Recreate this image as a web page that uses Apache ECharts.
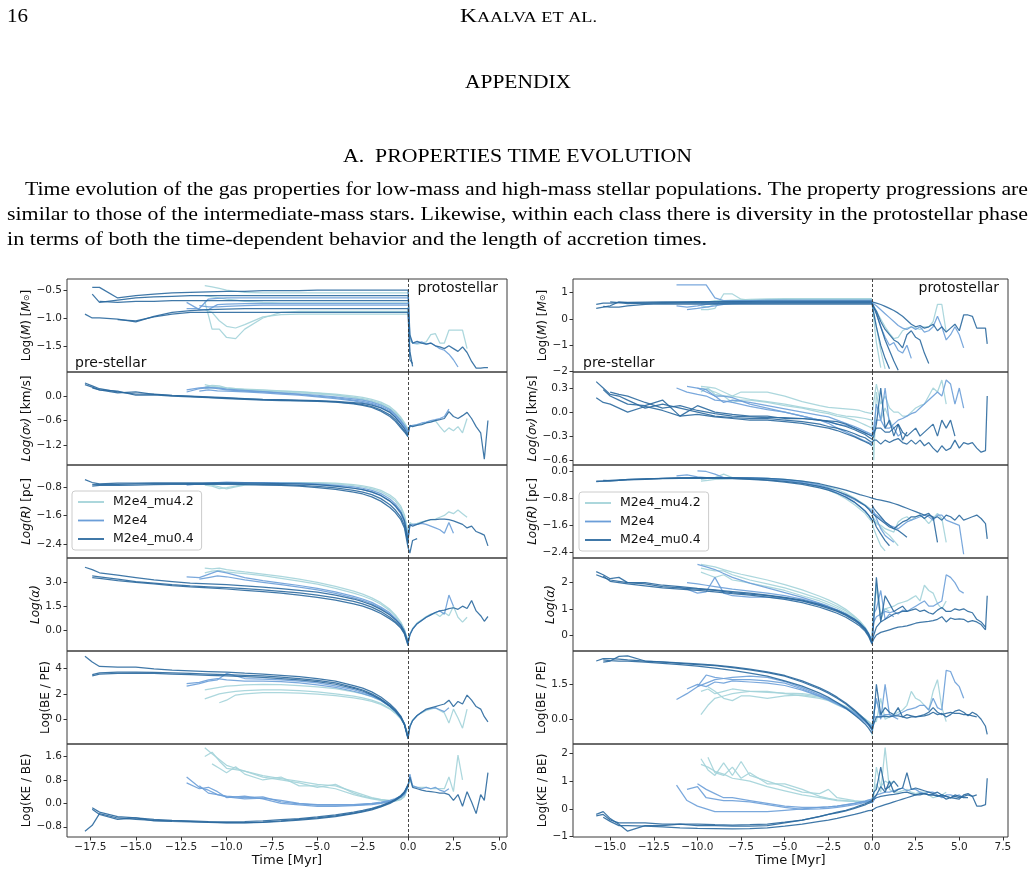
<!DOCTYPE html>
<html><head><meta charset="utf-8">
<script src="https://cdn.jsdelivr.net/npm/echarts@6/dist/echarts.min.js"></script>
<style>html,body{margin:0;padding:0;background:#fff}#c{width:1034px;height:892px}</style>
</head><body><div id="c"></div><script>
// ---------- tick labels ----------
const L_XTICKS = [-17.5,-15,-12.5,-10,-7.5,-5,-2.5,0,2.5,5];
const R_XTICKS = [-15,-12.5,-10,-7.5,-5,-2.5,0,2.5,5,7.5];
const L_M_TICKS = [-1.5,-1.0,-0.5], L_S_TICKS = [-1.2,-0.6,0], L_R_TICKS = [-2.4,-1.6,-0.8];
const L_A_TICKS = [0,1.5,3.0], L_B_TICKS = [0,2,4], L_K_TICKS = [-0.8,0,0.8,1.6];
const R_M_TICKS = [-2,-1,0,1], R_S_TICKS = [-0.6,-0.3,0,0.3], R_R_TICKS = [-2.4,-1.6,-0.8,0];
const R_A_TICKS = [0,1,2], R_B_TICKS = [0,1.5], R_K_TICKS = [-1,0,1,2];
const LEGEND_NAMES = ['M2e4_mu4.2','M2e4','M2e4_mu0.4'];

// ---------- time grids (Myr) ----------
const L_tD = [-17.8,-17.4,-17,-16,-15,-14,-13,-12,-11,-10,-9,-8,-7,-6,-5,-4,-3,-2.5,-2,-1.5,-1,-0.7,-0.4,-0.2,0];
const L_tM = [-12.2,-11.5,-11,-10.5,-10,-9,-8,-7,-6,-5,-4,-3,-2.5,-2,-1.5,-1,-0.7,-0.4,-0.2,0];
const L_tL = [-11.2,-10.8,-10.4,-10,-9.5,-9,-8,-7,-6,-5,-4,-3,-2.5,-2,-1.5,-1,-0.7,-0.4,-0.2,0];
const L_tP = [0,0.1,0.25,0.5,0.75,1,1.25,1.5,1.75,2,2.25,2.5,2.75,3,3.25,3.5,3.75,4,4.2,4.4];
const R_tD = [-15.8,-15.4,-15,-14.5,-14,-13,-12,-11,-10,-9,-8,-7,-6,-5,-4,-3,-2.5,-2,-1.5,-1,-0.7,-0.4,-0.2,0];
const R_tM = [-11.2,-10.6,-10,-9.5,-9,-8.5,-8,-7,-6,-5,-4,-3,-2.5,-2,-1.5,-1,-0.7,-0.4,-0.2,0];
const R_tL = [-9.8,-9.4,-9,-8.5,-8,-7.5,-7,-6,-5,-4,-3,-2.5,-2,-1.5,-1,-0.7,-0.4,-0.2,0];
const R_tP = [0,0.1,0.25,0.5,0.75,1,1.25,1.5,1.75,2,2.25,2.5,2.75,3,3.25,3.5,3.75,4,4.25,4.5,4.75,5,5.25,5.5,5.75,6,6.25,6.5,6.6];

// ================= LEFT FIGURE (low-mass) =================
const L_M_D = [
[-0.93,-1.0,-1.0,-1.02,-1.07,-0.97,-0.9,-0.87,-0.85,-0.84,-0.83,-0.83,-0.83,-0.83,-0.83,-0.83,-0.83,-0.83,-0.83,-0.83,-0.83,-0.83,-0.83,-0.83,-0.83],
[null,-0.45,-0.45,-0.64,-0.6,-0.57,-0.55,-0.54,-0.53,-0.52,-0.52,-0.51,-0.51,-0.51,-0.5,-0.5,-0.5,-0.5,-0.5,-0.5,-0.5,-0.5,-0.5,-0.5,-0.5],
[null,-0.57,-0.72,-0.68,-0.64,-0.62,-0.61,-0.6,-0.6,-0.6,-0.6,-0.6,-0.6,-0.6,-0.6,-0.6,-0.6,-0.6,-0.6,-0.6,-0.6,-0.6,-0.6,-0.6,-0.6],
[null,null,null,-1.03,-1.05,-0.98,-0.93,-0.9,-0.9,-0.9,-0.9,-0.9,-0.9,-0.9,-0.9,-0.9,-0.9,-0.9,-0.9,-0.9,-0.9,-0.9,-0.9,-0.9,-0.9],
[null,null,-0.7,-0.72,-0.7,-0.7,-0.69,-0.69,-0.69,-0.69,-0.69,-0.69,-0.69,-0.69,-0.69,-0.69,-0.69,-0.69,-0.69,-0.69,-0.69,-0.69,-0.69,-0.69,-0.69]];
const L_M_M = [
[-0.72,-0.85,-0.85,-0.76,-0.75,-0.74,-0.74,-0.74,-0.74,-0.74,-0.74,-0.74,-0.74,-0.74,-0.74,-0.74,-0.74,-0.74,-0.74,-0.74],
[-0.83,-0.83,-0.66,-0.65,-0.64,-0.64,-0.64,-0.64,-0.64,-0.64,-0.64,-0.64,-0.64,-0.64,-0.64,-0.64,-0.64,-0.64,-0.64,-0.64],
[null,-0.78,-0.8,-0.8,-0.79,-0.78,-0.77,-0.77,-0.77,-0.77,-0.77,-0.77,-0.77,-0.77,-0.77,-0.77,-0.77,-0.77,-0.77,-0.77]];
const L_M_L = [
[-0.42,-0.44,-0.47,-0.5,-0.52,-0.54,-0.55,-0.55,-0.55,-0.55,-0.55,-0.55,-0.55,-0.55,-0.55,-0.55,-0.55,-0.55,-0.55,-0.55],
[-0.7,-1.2,-1.2,-1.35,-1.37,-1.2,-1.0,-0.9,-0.88,-0.88,-0.88,-0.88,-0.88,-0.88,-0.88,-0.88,-0.88,-0.88,-0.88,-0.88],
[-0.85,-0.9,-1.05,-1.15,-1.18,-1.12,-0.98,-0.94,-0.93,-0.93,-0.93,-0.93,-0.93,-0.93,-0.93,-0.93,-0.93,-0.93,-0.93,-0.93],
[-0.6,-0.62,-0.64,-0.66,-0.68,-0.7,-0.72,-0.73,-0.73,-0.73,-0.73,-0.73,-0.73,-0.73,-0.73,-0.73,-0.73,-0.73,-0.73,-0.73]];
const L_M_Pd = [[-0.5,-1.3,-1.45,-1.42,-1.45,-1.47,-1.45,-1.5,-1.52,-1.55,-1.5,-1.55,-1.6,-1.52,-1.62,-1.78,-1.9,-1.9,-1.89,-1.89],[-0.83,-1.6,-1.87],[-0.9,-1.75,-1.82]];
const L_M_Pm = [[-0.6,-1.35,-1.45,-1.45,-1.43,-1.47,-1.45,-1.5,-1.55,-1.58,-1.65,-1.75,-1.88]];
const L_M_Pl = [[-0.8,-1.4,-1.45,-1.47,-1.45,-1.43,-1.3,-1.28,-1.45,-1.45,-1.22,-1.22,-1.22,-1.22,-1.55]];
const L_S_D = [
[0.32,0.25,0.18,0.1,0.05,0.05,0.02,0.0,-0.02,-0.04,-0.06,-0.08,-0.09,-0.1,-0.11,-0.13,-0.16,-0.18,-0.22,-0.29,-0.4,-0.52,-0.68,-0.8,-0.95],
[0.28,0.22,0.15,0.08,0.1,0.04,0.01,-0.01,-0.03,-0.05,-0.07,-0.09,-0.1,-0.11,-0.12,-0.14,-0.18,-0.21,-0.26,-0.34,-0.46,-0.58,-0.74,-0.85,-0.98],
[null,0.2,0.15,0.12,0.02,0.03,0.0,-0.02,-0.04,-0.06,-0.08,-0.1,-0.11,-0.12,-0.13,-0.15,-0.19,-0.23,-0.28,-0.37,-0.5,-0.62,-0.78,-0.88,-1.0]];
const L_S_M = [
[0.15,0.2,0.22,0.18,0.15,0.12,0.1,0.07,0.04,0.0,-0.04,-0.1,-0.13,-0.18,-0.25,-0.36,-0.48,-0.62,-0.74,-0.88],
[0.1,0.18,0.2,0.2,0.17,0.14,0.11,0.08,0.05,0.02,-0.02,-0.07,-0.1,-0.15,-0.22,-0.33,-0.45,-0.6,-0.72,-0.85],
[null,0.12,0.15,0.13,0.12,0.1,0.08,0.05,0.02,-0.02,-0.06,-0.12,-0.16,-0.2,-0.28,-0.39,-0.52,-0.66,-0.77,-0.9]];
const L_S_L = [
[0.28,0.24,0.22,0.2,0.18,0.17,0.15,0.13,0.11,0.08,0.05,0.0,-0.03,-0.08,-0.15,-0.26,-0.37,-0.52,-0.65,-0.8],
[0.22,0.26,0.25,0.2,0.18,0.16,0.14,0.12,0.1,0.07,0.03,-0.03,-0.06,-0.11,-0.18,-0.3,-0.4,-0.55,-0.68,-0.82],
[0.18,0.2,0.2,0.17,0.15,0.14,0.12,0.1,0.08,0.05,0.02,-0.04,-0.08,-0.13,-0.2,-0.32,-0.43,-0.58,-0.7,-0.85]];
const L_S_Pd = [[-0.95,-0.72,-0.75,-0.72,-0.7,-0.66,-0.64,-0.6,-0.58,-0.55,-0.38,-0.5,-0.55,-0.48,-0.4,-0.55,-0.75,-0.9,-1.55,-0.6]];
const L_S_Pm = [[-0.88,-0.75,-0.72,-0.7,-0.66,-0.64,-0.6,-0.58,-0.55,-0.5,-0.32]];
const L_S_Pl = [[-0.8,-0.75,-0.73,-0.7,-0.68,-0.65,-0.62,-0.6,-0.75,-0.88,-0.78,-0.85,-0.75,-0.9,-0.55]];
const L_R_D = [
[-0.6,-0.68,-0.72,-0.7,-0.7,-0.69,-0.69,-0.69,-0.69,-0.69,-0.69,-0.7,-0.71,-0.72,-0.74,-0.78,-0.84,-0.88,-0.94,-1.04,-1.2,-1.33,-1.52,-1.75,-2.3],
[null,-0.74,-0.74,-0.73,-0.72,-0.71,-0.71,-0.71,-0.71,-0.71,-0.72,-0.73,-0.74,-0.76,-0.79,-0.83,-0.9,-0.95,-1.02,-1.13,-1.3,-1.45,-1.65,-1.88,-2.4],
[null,-0.78,-0.76,-0.76,-0.75,-0.74,-0.73,-0.73,-0.73,-0.73,-0.74,-0.75,-0.76,-0.78,-0.82,-0.87,-0.95,-1.0,-1.08,-1.2,-1.38,-1.52,-1.72,-1.95,-2.5]];
const L_R_M = [
[-0.75,-0.72,-0.7,-0.68,-0.67,-0.68,-0.68,-0.69,-0.7,-0.72,-0.75,-0.8,-0.84,-0.9,-0.99,-1.14,-1.28,-1.48,-1.72,-2.2],
[-0.72,-0.73,-0.72,-0.7,-0.7,-0.7,-0.7,-0.71,-0.72,-0.74,-0.78,-0.84,-0.88,-0.95,-1.05,-1.2,-1.35,-1.55,-1.8,-2.35]];
const L_R_L = [
[-0.75,-0.78,-0.85,-0.82,-0.78,-0.73,-0.7,-0.68,-0.68,-0.68,-0.7,-0.74,-0.77,-0.82,-0.9,-1.03,-1.15,-1.34,-1.58,-2.05],
[-0.72,-0.75,-0.8,-0.86,-0.8,-0.75,-0.72,-0.7,-0.69,-0.7,-0.72,-0.77,-0.8,-0.86,-0.94,-1.08,-1.2,-1.4,-1.65,-2.15]];
const L_R_Pd = [[-2.3,-1.85,-1.9,-1.85,-1.8,-1.75,-1.72,-1.72,-1.7,-1.7,-1.72,-1.75,-1.8,-1.85,-1.95,-1.9,-2.05,-2.1,-2.15,-2.45],[-2.5,-2.65,-2.3,-2.25]];
const L_R_Pm = [[-2.2,-1.9,-1.85,-1.85,-1.82,-1.85,-1.9,-1.95,-2.0,-2.1,-1.8,-2.1]];
const L_R_Pl = [[-2.05,-1.8,-1.85,-1.82,-1.78,-1.75,-1.72,-1.7,-1.65,-1.6,-1.5,-1.55,-1.45,-1.55,-1.65]];
const L_A_D = [
[3.95,3.8,3.6,3.45,3.3,3.15,3.05,2.95,2.9,2.85,2.78,2.7,2.6,2.5,2.38,2.2,1.95,1.78,1.58,1.3,0.95,0.65,0.3,-0.1,-0.8],
[null,3.4,3.35,3.2,3.05,2.95,2.85,2.78,2.72,2.66,2.6,2.52,2.43,2.33,2.2,2.02,1.8,1.64,1.44,1.16,0.8,0.52,0.18,-0.2,-0.9],
[null,3.3,3.25,3.1,3.0,2.9,2.8,2.72,2.65,2.58,2.5,2.42,2.32,2.2,2.06,1.88,1.65,1.5,1.3,1.04,0.7,0.45,0.12,-0.25,-1.0]];
const L_A_M = [
[3.35,3.3,3.5,3.7,3.6,3.3,3.1,2.95,2.8,2.62,2.4,2.12,1.95,1.74,1.45,1.08,0.75,0.35,-0.05,-0.85],
[null,3.2,3.3,3.4,3.35,3.15,3.0,2.85,2.7,2.52,2.3,2.02,1.86,1.65,1.38,1.0,0.7,0.3,-0.1,-0.8]];
const L_A_L = [
[3.9,3.85,3.9,3.8,3.72,3.65,3.52,3.38,3.2,3.0,2.75,2.45,2.26,2.02,1.72,1.3,0.95,0.5,0.05,-0.7],
[3.6,3.7,3.75,3.65,3.6,3.55,3.42,3.25,3.08,2.88,2.62,2.32,2.14,1.92,1.62,1.22,0.88,0.45,0.0,-0.75]];
const L_A_Pd = [[-0.8,-0.3,0.05,0.4,0.6,0.8,0.95,1.1,1.2,1.25,1.35,1.4,1.3,1.5,1.35,1.85,1.2,0.9,0.55,0.85]];
const L_A_Pm = [[-0.85,-0.3,0.05,0.4,0.6,0.8,0.95,1.1,1.2,1.0,2.2,1.5]];
const L_A_Pl = [[-0.7,-0.25,0.1,0.45,0.65,0.85,1.0,1.05,0.85,1.1,0.9,1.5,0.8,0.5,0.8]];
const L_B_D = [
[4.95,4.5,4.15,4.1,4.1,3.95,3.85,3.8,3.75,3.7,3.62,3.55,3.45,3.35,3.2,3.0,2.65,2.45,2.15,1.75,1.2,0.8,0.25,-0.35,-1.45],
[null,3.5,3.65,3.7,3.7,3.68,3.65,3.6,3.55,3.5,3.45,3.4,3.3,3.2,3.05,2.85,2.5,2.3,2.0,1.6,1.08,0.7,0.18,-0.4,-1.5],
[null,3.4,3.55,3.6,3.62,3.6,3.55,3.5,3.45,3.4,3.35,3.28,3.2,3.1,2.95,2.75,2.42,2.22,1.92,1.52,1.0,0.62,0.12,-0.45,-1.55]];
const L_B_M = [
[2.6,2.8,3.0,3.1,3.6,3.2,3.15,3.1,3.0,2.85,2.62,2.32,2.12,1.88,1.55,1.05,0.65,0.15,-0.35,-1.4],
[2.8,2.9,3.1,3.2,3.1,3.0,3.0,2.95,2.85,2.7,2.5,2.2,2.02,1.8,1.48,1.0,0.6,0.1,-0.4,-1.45]];
const L_B_L = [
[1.6,1.8,2.0,2.1,2.2,2.25,2.3,2.3,2.25,2.15,2.0,1.82,1.68,1.5,1.25,0.85,0.5,0.05,-0.4,-1.25],
[2.3,2.4,2.5,2.6,2.65,2.7,2.75,2.72,2.65,2.55,2.4,2.15,2.0,1.78,1.48,1.02,0.62,0.12,-0.38,-1.3],
[null,null,1.3,1.5,1.9,2.0,2.1,2.1,2.05,1.98,1.85,1.68,1.56,1.4,1.17,0.8,0.46,0.04,-0.42,-1.2]];
const L_B_Pd = [[-1.5,-0.6,-0.1,0.3,0.55,0.8,0.9,1.0,1.1,1.2,1.5,1.0,1.4,1.2,1.9,1.5,1.0,0.8,0.2,-0.2]];
const L_B_Pm = [[-1.4,-0.55,-0.1,0.3,0.55,0.75,0.85,0.9,0.75,0.6,0.9]];
const L_B_Pl = [[-1.25,-0.5,-0.05,0.3,0.5,0.7,0.8,0.9,0.7,0.5,-0.3,0.8,0.1,-0.7,0.8]];
const L_K_D = [
[-0.95,-0.75,-0.35,-0.5,-0.55,-0.58,-0.6,-0.62,-0.64,-0.66,-0.66,-0.64,-0.6,-0.55,-0.5,-0.43,-0.33,-0.27,-0.2,-0.1,0.02,0.12,0.25,0.38,0.62],
[null,-0.15,-0.3,-0.45,-0.5,-0.55,-0.58,-0.6,-0.62,-0.63,-0.62,-0.6,-0.56,-0.52,-0.46,-0.39,-0.3,-0.24,-0.17,-0.08,0.04,0.14,0.27,0.4,0.65],
[null,-0.2,-0.38,-0.55,-0.5,-0.6,-0.62,-0.63,-0.65,-0.67,-0.67,-0.65,-0.62,-0.57,-0.52,-0.45,-0.35,-0.29,-0.22,-0.12,0.0,0.1,0.23,0.36,0.6]];
const L_K_M = [
[0.9,0.55,0.45,0.3,0.25,0.2,0.22,0.05,-0.02,-0.06,-0.06,-0.06,-0.04,-0.02,0.02,0.08,0.14,0.22,0.32,0.6],
[0.7,0.5,0.55,0.4,0.2,0.25,0.15,0.0,-0.05,-0.1,-0.1,-0.08,-0.06,-0.04,0.0,0.06,0.12,0.2,0.3,0.58],
[null,0.6,0.35,0.3,0.22,0.15,0.18,0.1,0.0,-0.04,-0.04,-0.04,-0.02,0.0,0.04,0.1,0.16,0.24,0.34,0.62]];
const L_K_L = [
[1.9,1.7,1.5,1.3,1.2,1.1,0.95,0.85,0.75,0.65,0.6,0.4,0.3,0.2,0.14,0.1,0.1,0.15,0.25,0.6],
[1.6,1.75,1.45,1.2,1.15,1.1,0.9,0.8,0.7,0.55,0.65,0.35,0.25,0.18,0.12,0.08,0.1,0.14,0.24,0.58],
[null,1.35,1.2,1.05,1.25,1.0,0.8,0.9,0.6,0.6,0.5,0.3,0.22,0.15,0.1,0.07,0.08,0.13,0.23,0.55]];
const L_K_Pd = [[0.62,0.9,0.55,0.5,0.45,0.42,0.4,0.38,0.35,0.35,0.3,0.1,0.3,-0.1,0.4,0.05,-0.35,0.3,0.1,1.05]];
const L_K_Pm = [[0.58,1.0,0.6,0.55,0.5,0.55,0.5,0.55,0.45,0.4,0.5]];
const L_K_Pl = [[0.55,0.8,0.6,0.55,0.55,0.55,0.5,0.5,0.5,0.5,0.9,0.4,1.65,0.8]];

// ================= RIGHT FIGURE (high-mass) =================
const R_M_D = [
[0.4,0.45,0.5,0.65,0.62,0.6,0.6,0.6,0.6,0.6,0.6,0.6,0.6,0.6,0.6,0.6,0.6,0.6,0.6,0.6,0.6,0.6,0.6,0.6],
[0.55,0.6,0.6,0.62,0.63,0.64,0.65,0.65,0.66,0.66,0.67,0.67,0.68,0.68,0.68,0.68,0.68,0.68,0.68,0.68,0.68,0.68,0.68,0.68],
[null,0.48,0.45,0.45,0.5,0.55,0.57,0.56,0.56,0.56,0.56,0.56,0.56,0.56,0.56,0.56,0.56,0.56,0.56,0.56,0.56,0.56,0.56,0.56],
[null,null,0.65,0.62,0.58,0.6,0.62,0.63,0.63,0.64,0.64,0.64,0.64,0.64,0.64,0.64,0.64,0.64,0.64,0.64,0.64,0.64,0.64,0.64]];
const R_M_M = [
[1.3,1.3,1.3,1.3,0.8,0.7,0.7,0.7,0.72,0.72,0.72,0.72,0.72,0.72,0.72,0.72,0.72,0.72,0.72,0.72],
[0.5,0.45,0.5,0.55,0.58,0.6,0.62,0.64,0.66,0.67,0.67,0.67,0.67,0.67,0.67,0.67,0.67,0.67,0.67,0.67],
[null,0.35,0.4,0.45,0.5,0.55,0.58,0.6,0.61,0.62,0.62,0.62,0.62,0.62,0.62,0.62,0.62,0.62,0.62,0.62]];
const R_M_L = [
[0.35,0.35,0.4,0.95,0.95,0.75,0.72,0.73,0.74,0.75,0.75,0.75,0.75,0.75,0.75,0.75,0.75,0.75,0.75],
[0.6,0.65,0.7,0.7,0.72,0.73,0.74,0.76,0.77,0.77,0.77,0.77,0.77,0.77,0.77,0.77,0.77,0.77,0.77],
[0.5,0.45,0.55,0.6,0.65,0.68,0.7,0.71,0.72,0.72,0.72,0.72,0.72,0.72,0.72,0.72,0.72,0.72,0.72]];
const R_M_Pd = [
[0.65,0.63,0.6,0.55,0.48,0.4,0.32,0.22,0.1,-0.05,-0.2,-0.3,-0.25,-0.35,-0.3,-0.2,-0.45,-0.3,-0.5,-0.35,-0.2,-0.45,0.15,0.15,0.1,-0.35,-0.35,-0.35,-0.95],
[0.6,0.45,0.3,-0.1,-0.4,-0.6,-0.8,-0.9,-1.1,-0.6,-0.45,-0.7,-0.8,-1.3,-1.7],
[0.6,0.45,0.2,-0.3,-0.8,-1.2,-1.6,-1.95],
[0.6,0.2,-0.3,-1.0,-1.5,-1.9]];
const R_M_Pm = [
[0.62,0.58,0.5,0.35,0.2,0.05,-0.1,-0.25,-0.35,-0.4,-0.3,-0.4,-0.3,-0.5,-0.45,-0.3,0.1,-0.3,-0.8,-0.6,-0.3,-0.6,-1.1],
[0.62,0.45,0.2,-0.3,-0.7,-1.0,-0.9,-1.2,-1.3,-1.0,-1.5]];
const R_M_Pl = [
[0.6,0.5,0.3,0.0,-0.3,-0.55,-0.75,-0.7,-0.45,-0.35,-0.3,-0.35,-0.4,-0.3,-0.3,-0.1,0.55,0.55,-0.5],
[0.65,0.3,-0.3,-1.2,-1.9],
[0.62,0.0,-0.9,-1.85]];
const R_S_D = [
[0.38,0.3,0.22,0.2,0.15,0.05,0.1,0.05,0.0,-0.05,-0.07,-0.08,-0.08,-0.1,-0.12,-0.15,-0.18,-0.2,-0.23,-0.27,-0.3,-0.32,-0.35,-0.38],
[0.18,0.12,0.1,0.05,0.0,0.07,0.02,-0.05,0.08,0.0,-0.03,-0.05,-0.05,-0.08,-0.08,-0.1,-0.11,-0.12,-0.15,-0.2,-0.23,-0.26,-0.28,-0.3],
[null,0.28,0.2,0.15,0.1,0.08,0.15,-0.05,-0.03,-0.06,-0.08,-0.1,-0.1,-0.12,-0.14,-0.18,-0.2,-0.23,-0.27,-0.31,-0.34,-0.37,-0.39,-0.42],
[null,null,0.25,0.22,0.2,0.12,0.05,0.08,0.02,-0.02,-0.05,-0.06,-0.07,-0.07,-0.08,-0.1,-0.12,-0.15,-0.18,-0.22,-0.25,-0.28,-0.31,-0.34]];
const R_S_M = [
[0.3,0.25,0.22,0.2,0.15,0.14,0.12,0.07,0.03,0.0,-0.05,-0.1,-0.12,-0.15,-0.17,-0.2,-0.23,-0.26,-0.28,-0.3],
[null,null,0.3,0.28,0.2,0.2,0.18,0.1,0.05,0.0,-0.05,-0.1,-0.14,-0.2,-0.25,-0.3,-0.33,-0.36,-0.38,-0.4],
[null,0.32,0.3,0.25,0.2,0.12,0.15,0.12,0.08,0.04,0.0,-0.04,-0.06,-0.1,-0.14,-0.18,-0.21,-0.24,-0.26,-0.28]];
const R_S_L = [
[0.32,0.31,0.3,0.25,0.2,0.25,0.25,0.25,0.2,0.13,0.08,0.06,0.05,0.04,0.03,0.02,0.0,-0.01,-0.02],
[0.3,0.28,0.25,0.2,0.12,0.15,0.15,0.12,0.08,0.05,0.0,-0.02,-0.05,-0.07,-0.1,-0.13,-0.16,-0.18,-0.2],
[0.25,0.3,0.22,0.2,0.2,0.18,0.16,0.13,0.1,0.06,0.02,0.0,-0.03,-0.05,-0.06,-0.07,-0.08,-0.09,-0.1]];
const R_S_Pd = [
[-0.38,-0.35,-0.35,-0.4,-0.35,-0.38,-0.35,-0.33,-0.38,-0.4,-0.35,-0.4,-0.35,-0.42,-0.38,-0.45,-0.5,-0.42,-0.48,-0.45,-0.35,-0.45,-0.38,-0.4,-0.38,-0.45,-0.5,-0.48,0.2],
[-0.3,-0.25,-0.2,-0.2,-0.25,-0.25,-0.2,-0.15,-0.25,-0.3,-0.25,-0.2,-0.3,-0.25,-0.2,-0.15,-0.3,-0.1,-0.2,-0.1,-0.3],
[-0.34,-0.3,-0.15,0.3,-0.2,-0.1,-0.3,-0.15,-0.35,-0.25]];
const R_S_Pm = [
[-0.28,-0.2,-0.1,-0.1,-0.2,-0.2,-0.15,-0.1,-0.08,-0.05,-0.02,0.0,0.05,0.1,0.15,0.2,0.25,0.2,0.4,0.35,0.1,0.3,0.05],
[-0.3,-0.2,0.1,-0.1,0.3,-0.15,-0.2,-0.3,-0.25]];
const R_S_Pl = [
[-0.02,0.0,0.35,0.1,0.2,0.05,0.0,0.0,-0.05,-0.05,0.0,0.05,0.08,0.1,0.2,0.3,0.25,0.4,0.1],
[-0.1,-0.6,0.25,-0.1,0.05,-0.1,-0.2]];
const R_R_D = [
[-0.3,-0.3,-0.3,-0.28,-0.27,-0.25,-0.22,-0.21,-0.2,-0.2,-0.2,-0.21,-0.22,-0.25,-0.3,-0.38,-0.44,-0.5,-0.57,-0.65,-0.7,-0.74,-0.77,-0.8],
[-0.32,-0.3,-0.28,-0.27,-0.26,-0.24,-0.22,-0.21,-0.21,-0.21,-0.22,-0.24,-0.27,-0.31,-0.37,-0.46,-0.52,-0.6,-0.7,-0.82,-0.92,-1.02,-1.12,-1.25],
[null,-0.28,-0.29,-0.28,-0.25,-0.24,-0.23,-0.22,-0.22,-0.22,-0.23,-0.25,-0.28,-0.33,-0.4,-0.5,-0.57,-0.66,-0.77,-0.92,-1.05,-1.18,-1.3,-1.45]];
const R_R_M = [
[-0.15,-0.12,-0.18,-0.2,-0.2,-0.2,-0.2,-0.21,-0.22,-0.26,-0.32,-0.42,-0.5,-0.6,-0.72,-0.85,-0.94,-1.02,-1.1,-1.2],
[null,null,0.0,-0.02,-0.1,-0.2,-0.22,-0.22,-0.23,-0.28,-0.35,-0.46,-0.54,-0.65,-0.78,-0.93,-1.05,-1.18,-1.3,-1.45]];
const R_R_L = [
[-0.3,-0.28,-0.25,-0.24,-0.22,-0.22,-0.22,-0.22,-0.25,-0.3,-0.4,-0.47,-0.55,-0.66,-0.8,-0.9,-1.0,-1.08,-1.15],
[-0.25,-0.22,-0.2,-0.1,-0.2,-0.22,-0.23,-0.24,-0.28,-0.35,-0.48,-0.57,-0.68,-0.82,-1.0,-1.12,-1.25,-1.38,-1.5]];
const R_R_Pd = [
[-0.8,-0.82,-0.84,-0.86,-0.89,-0.92,-0.96,-1.0,-1.05,-1.1,-1.15,-1.2,-1.25,-1.3,-1.25,-1.4,-1.35,-1.45,-1.3,-1.35,-1.45,-1.3,-1.45,-1.4,-1.35,-1.3,-1.4,-1.55,-2.0],
[-1.25,-1.3,-1.35,-1.45,-1.55,-1.65,-1.7,-1.6,-1.5,-1.45,-1.35,-1.35,-1.3,-1.4,-1.3,-1.35,-2.1],
[-1.0,-1.1,-1.2,-1.35,-1.5,-1.6,-1.7,-1.75,-1.85,-1.95],
[-1.3,-1.45,-1.65,-1.85,-2.05,-2.2]];
const R_R_Pm = [
[-1.2,-1.25,-1.3,-1.4,-1.5,-1.6,-1.65,-1.7,-1.6,-1.5,-1.45,-1.4,-1.35,-1.3,-1.35,-1.45,-1.3,-1.3,-1.45,-1.5,-1.55,-1.6,-2.45],
[-1.1,-1.2,-1.4,-1.7,-1.9,-2.0,-2.1]];
const R_R_Pl = [
[-1.45,-1.5,-1.55,-1.6,-1.7,-1.75,-1.8,-1.5,-1.4,-1.35,-1.45,-1.35,-1.3,-1.4,-1.55,-1.4,-1.25,-1.4,-2.1],
[-1.5,-1.7,-1.9,-2.2,-2.35],
[-1.3,-1.4,-1.5,-1.65,-1.8,-1.9,-2.05,-2.2]];
const R_A_D = [
[2.3,2.2,2.1,2.05,2.0,1.95,1.85,1.8,1.75,1.7,1.62,1.56,1.5,1.42,1.3,1.12,1.02,0.9,0.75,0.55,0.4,0.2,0.0,-0.3],
[2.42,2.3,2.15,2.2,2.0,2.0,1.9,1.85,1.78,1.72,1.66,1.6,1.52,1.44,1.33,1.17,1.06,0.94,0.79,0.6,0.45,0.25,0.05,-0.25],
[null,2.25,2.05,2.0,1.95,1.88,1.8,1.75,1.7,1.65,1.58,1.52,1.45,1.36,1.24,1.06,0.95,0.83,0.68,0.48,0.34,0.15,-0.05,-0.35]];
const R_A_M = [
[1.85,1.75,1.6,1.65,2.2,1.6,1.5,1.45,1.45,1.4,1.3,1.15,1.05,0.93,0.78,0.58,0.43,0.23,0.03,-0.3],
[null,null,2.7,2.6,2.5,2.35,2.2,1.98,1.8,1.62,1.44,1.22,1.1,0.96,0.8,0.6,0.44,0.24,0.03,-0.3],
[null,2.0,1.95,1.9,1.85,1.8,1.75,1.68,1.6,1.5,1.37,1.2,1.08,0.95,0.8,0.6,0.45,0.26,0.05,-0.25]];
const R_A_L = [
[2.7,2.65,2.6,2.5,2.4,2.32,2.25,2.1,1.92,1.72,1.48,1.34,1.18,0.98,0.72,0.54,0.3,0.08,-0.2],
[2.55,2.5,2.45,2.45,2.3,2.2,2.1,1.95,1.8,1.6,1.38,1.25,1.1,0.92,0.68,0.5,0.27,0.05,-0.22],
[2.4,2.3,2.2,2.3,2.1,2.05,1.98,1.85,1.7,1.5,1.3,1.17,1.03,0.85,0.63,0.46,0.25,0.03,-0.25]];
const R_A_Pd = [
[-0.3,-0.15,0.0,0.1,0.15,0.2,0.25,0.3,0.32,0.35,0.4,0.45,0.48,0.5,0.52,0.55,0.6,0.7,0.5,0.65,0.6,0.62,0.6,0.5,0.55,0.5,0.4,0.2,1.5],
[-0.25,0.0,0.3,0.5,0.6,0.7,0.8,0.85,0.9,0.9,0.95,1.0,0.9,0.95,0.85,0.8,0.95,1.05,0.9,0.9,1.0,0.95,1.0,0.9,0.85,0.6,0.5,0.3],
[-0.3,0.5,2.2,0.5,1.5,1.2,0.9,1.0,1.1,0.9]];
const R_A_Pm = [
[-0.1,0.5,0.7,0.8,0.9,0.85,0.9,0.8,0.95,0.9,1.0,1.1,1.2,1.3,1.1,1.1,1.2,1.3,2.3,2.2,2.0,1.7,1.6],
[-0.2,0.8,1.0,1.7,0.6,0.8,0.7]];
const R_A_Pl = [
[0.0,1.0,2.0,0.8,1.0,1.05,1.1,1.2,1.25,1.3,1.4,1.5,1.3,1.9,1.7,1.6,1.2,1.0,1.3],
[-0.1,1.0,1.8,0.6,1.0,0.9]];
const R_B_D = [
[2.5,2.6,2.6,2.58,2.55,2.5,2.45,2.4,2.35,2.3,2.22,2.12,2.0,1.85,1.6,1.3,1.12,0.9,0.66,0.36,0.16,-0.05,-0.22,-0.45],
[null,2.45,2.5,2.7,2.72,2.5,2.46,2.42,2.38,2.32,2.25,2.15,2.03,1.88,1.65,1.35,1.17,0.95,0.7,0.4,0.2,-0.02,-0.2,-0.4],
[null,2.55,2.52,2.5,2.5,2.45,2.4,2.35,2.28,2.2,2.1,1.98,1.85,1.65,1.42,1.12,0.94,0.72,0.48,0.18,0.0,-0.2,-0.38,-0.6]];
const R_B_M = [
[0.85,1.1,1.4,1.55,1.7,1.75,1.8,1.85,1.8,1.62,1.36,1.05,0.88,0.7,0.5,0.28,0.12,-0.05,-0.18,-0.3],
[null,null,1.4,1.9,1.8,1.75,1.7,1.7,1.65,1.55,1.3,1.0,0.85,0.68,0.48,0.25,0.1,-0.08,-0.22,-0.4],
[null,1.3,1.5,1.4,1.6,1.55,1.65,1.6,1.55,1.45,1.25,0.98,0.82,0.65,0.46,0.22,0.06,-0.12,-0.26,-0.45]];
const R_B_L = [
[0.2,0.6,0.9,1.0,1.1,1.15,1.2,1.2,1.1,1.0,0.9,0.8,0.62,0.45,0.22,0.08,-0.08,-0.2,-0.3],
[null,1.4,1.2,0.9,0.8,1.0,1.0,0.9,1.0,1.05,0.95,0.85,0.7,0.52,0.3,0.15,0.0,-0.1,-0.2],
[1.2,1.3,1.1,1.2,1.3,1.25,1.2,1.15,1.12,1.1,1.0,0.88,0.72,0.55,0.32,0.18,0.02,-0.1,-0.25]];
const R_B_Pd = [
[-0.5,-0.2,0.1,0.1,0.12,0.1,0.15,0.15,0.1,0.05,0.1,0.1,0.12,0.15,0.2,0.3,0.2,0.25,0.1,0.2,0.35,0.4,0.3,0.15,0.3,0.2,0.0,-0.3,-0.65],
[-0.4,0.0,1.5,0.2,0.5,0.3,0.2,0.5,0.1,0.2,0.15,0.1,0.15,0.2,0.3,0.5,0.3,0.2,0.25,0.3,0.25,0.25,0.2,0.2,0.15,0.1]];
const R_B_Pm = [
[-0.3,0.1,0.1,0.1,0.2,0.2,0.15,0.2,0.3,0.4,0.45,0.5,0.6,0.6,0.4,0.9,0.5,0.4,2.1,2.05,1.6,1.4,0.9],
[-0.6,0.2,0.9,0.0,1.5,0.2,0.1,0.0]];
const R_B_Pl = [
[-0.4,0.3,0.8,0.2,0.15,0.1,0.2,0.3,0.4,0.6,1.2,0.9,0.8,0.6,0.4,1.2,1.7,0.5,-0.1],
[-0.7,-0.1,-0.1,0.9,0.0,0.1]];
const R_K_D = [
[-0.2,-0.1,-0.35,-0.55,-0.8,-0.6,-0.6,-0.55,-0.6,-0.6,-0.62,-0.62,-0.6,-0.5,-0.4,-0.28,-0.2,-0.12,-0.05,0.05,0.12,0.18,0.24,0.3],
[-0.25,-0.2,-0.4,-0.5,-0.5,-0.5,-0.55,-0.55,-0.55,-0.57,-0.58,-0.57,-0.55,-0.48,-0.4,-0.27,-0.2,-0.14,-0.07,0.02,0.08,0.14,0.2,0.25],
[null,-0.3,-0.45,-0.6,-0.6,-0.62,-0.65,-0.68,-0.7,-0.71,-0.72,-0.71,-0.68,-0.62,-0.55,-0.45,-0.4,-0.34,-0.27,-0.2,-0.15,-0.1,-0.06,-0.05]];
const R_K_M = [
[0.85,0.3,0.1,0.0,-0.1,-0.1,-0.1,-0.1,-0.1,-0.05,0.0,0.05,0.07,0.1,0.14,0.2,0.23,0.26,0.28,0.3],
[null,null,0.9,0.7,0.55,0.4,0.4,0.3,0.2,0.1,0.05,0.05,0.07,0.1,0.15,0.2,0.24,0.28,0.32,0.35],
[null,0.7,0.8,0.4,0.35,0.3,0.3,0.25,0.15,0.05,-0.02,0.0,0.02,0.05,0.1,0.15,0.19,0.23,0.27,0.3]];
const R_K_L = [
[1.8,1.4,1.2,1.65,1.2,1.7,1.2,1.0,0.8,0.6,0.55,0.7,0.4,0.35,0.3,0.28,0.28,0.29,0.3],
[1.6,1.5,1.35,1.25,1.1,1.05,1.0,0.8,0.65,0.5,0.4,0.35,0.3,0.28,0.26,0.25,0.25,0.25,0.25],
[null,1.85,1.3,1.2,1.5,1.1,1.3,0.9,0.9,0.7,0.45,0.38,0.32,0.3,0.27,0.26,0.26,0.27,0.28]];
const R_K_Pd = [
[0.3,0.35,0.4,0.45,0.48,0.5,0.52,0.55,0.58,0.6,0.55,0.5,0.55,0.55,0.5,0.5,0.48,0.45,0.35,0.4,0.38,0.35,0.5,0.55,0.45,0.1,0.1,0.15,1.1],
[0.3,0.4,0.5,0.8,0.6,1.0,0.6,0.7,0.75,1.3,0.7,0.75,0.7,0.65,0.6,0.55,0.6,0.5,0.45,0.4,0.5,0.45,0.4,0.4],
[-0.05,0.0,0.05,0.1,0.15,0.2,0.25,0.3,0.35,0.4,0.45,0.5,0.5,0.55,0.5,0.5,0.45,0.5,0.45,0.4,0.45,0.4,0.45,0.5,0.45,0.5],
[0.25,0.6,0.7,1.5,0.7,0.8,1.0,0.8]];
const R_K_Pm = [[0.2,0.3,0.5,0.55,0.6,0.6,0.65,0.7,0.75,0.65,0.7,0.7,0.6,0.55,0.6,0.6,0.5,0.4,0.5,0.5,0.45,0.5,0.4]];
const R_K_Pl = [
[0.3,0.5,0.9,0.6,2.2,0.7,0.6,0.6,0.65,0.7,0.6,0.55,0.6,0.6,0.5,0.4,0.45,0.5,0.6],
[0.35,0.6,1.5,0.8,1.0,0.9,1.0]];

// ---------- build ----------
const COL = {L:'#a3d3d9', M:'#6b9ed8', D:'#2b699f'};
const NAME = {L:LEGEND_NAMES[0], M:LEGEND_NAMES[1], D:LEGEND_NAMES[2]};
const FONT = 'DejaVu Sans';
function zip(t, v){ const o=[]; for(let i=0;i<t.length&&i<v.length;i++){ if(v[i]!==null) o.push([t[i],v[i]]); } return o; }
function fmt(v, d){ const s=(Math.abs(v)<1e-9?0:v).toFixed(d); return s.replace('-', '\u2212'); }

const N_M = '{n|Log(}{i|M}{n|) [}{i|M}{s|\u2299}{n|]}';
const N_S = '{i|Log(\u03c3}{si|v}{i|)}{n| [km/s]}';
const N_R = '{i|Log(R)}{n| [pc]}';
const N_A = '{i|Log(\u03b1)}';
const N_B = '{n|Log(BE / PE)}';
const N_K = '{n|Log(KE / BE)}';

const TOPS = [279,372,465,558,651,744], H = 93;
const FIGS = [
 {left:67, width:440, xmin:-18.79, xmax:5.45, xt:L_XTICKS, tD:L_tD, tM:L_tM, tL:L_tL, tP:L_tP, panels:[
  {y:[-1.97,-0.30], tk:L_M_TICKS, dec:1, gap:33, nm:N_M, D:L_M_D, M:L_M_M, L:L_M_L, Pd:L_M_Pd, Pm:L_M_Pm, Pl:L_M_Pl},
  {y:[-1.69,0.59], tk:L_S_TICKS, dec:1, gap:33, nm:N_S, D:L_S_D, M:L_S_M, L:L_S_L, Pd:L_S_Pd, Pm:L_S_Pm, Pl:L_S_Pl},
  {y:[-2.79,-0.19], tk:L_R_TICKS, dec:1, gap:33, nm:N_R, D:L_R_D, M:L_R_M, L:L_R_L, Pd:L_R_Pd, Pm:L_R_Pm, Pl:L_R_Pl},
  {y:[-1.32,4.53], tk:L_A_TICKS, dec:1, gap:25, nm:N_A, D:L_A_D, M:L_A_M, L:L_A_L, Pd:L_A_Pd, Pm:L_A_Pm, Pl:L_A_Pl},
  {y:[-1.94,5.36], tk:L_B_TICKS, dec:0, gap:15, nm:N_B, D:L_B_D, M:L_B_M, L:L_B_L, Pd:L_B_Pd, Pm:L_B_Pm, Pl:L_B_Pl},
  {y:[-1.15,2.03], tk:L_K_TICKS, dec:1, gap:33, nm:N_K, D:L_K_D, M:L_K_M, L:L_K_L, Pd:L_K_Pd, Pm:L_K_Pm, Pl:L_K_Pl}]},
 {left:573, width:435, xmin:-17.13, xmax:7.79, xt:R_XTICKS, tD:R_tD, tM:R_tM, tL:R_tL, tP:R_tP, panels:[
  {y:[-2.02,1.52], tk:R_M_TICKS, dec:0, gap:23, nm:N_M, D:R_M_D, M:R_M_M, L:R_M_L, Pd:R_M_Pd, Pm:R_M_Pm, Pl:R_M_Pl},
  {y:[-0.66,0.50], tk:R_S_TICKS, dec:1, gap:31, nm:N_S, D:R_S_D, M:R_S_M, L:R_S_L, Pd:R_S_Pd, Pm:R_S_Pm, Pl:R_S_Pl},
  {y:[-2.56,0.17], tk:R_R_TICKS, dec:1, gap:31, nm:N_R, D:R_R_D, M:R_R_M, L:R_R_L, Pd:R_R_Pd, Pm:R_R_Pm, Pl:R_R_Pl},
  {y:[-0.61,2.94], tk:R_A_TICKS, dec:0, gap:16, nm:N_A, D:R_A_D, M:R_A_M, L:R_A_L, Pd:R_A_Pd, Pm:R_A_Pm, Pl:R_A_Pl},
  {y:[-1.06,2.93], tk:R_B_TICKS, dec:1, gap:23, nm:N_B, D:R_B_D, M:R_B_M, L:R_B_L, Pd:R_B_Pd, Pm:R_B_Pm, Pl:R_B_Pl},
  {y:[-1.01,2.33], tk:R_K_TICKS, dec:0, gap:23, nm:N_K, D:R_K_D, M:R_K_M, L:R_K_L, Pd:R_K_Pd, Pm:R_K_Pm, Pl:R_K_Pl}]}
];

const grid=[], xAxis=[], yAxis=[], series=[];
FIGS.forEach((f,fi)=>{
 f.panels.forEach((p,pi)=>{
  const k = fi*6+pi, bottom = pi===5;
  grid.push({left:f.left, top:TOPS[pi], width:f.width, height:H, show:true, borderColor:'#3a3a3a', borderWidth:1, backgroundColor:'transparent'});
  xAxis.push({type:'value', gridIndex:k, min:f.xmin, max:f.xmax, position:'bottom',
   axisLine:{show:false, onZero:false}, splitLine:{show:false},
   axisTick:{show:bottom, length:3.5, customValues:f.xt, lineStyle:{color:'#333'}},
   axisLabel:{show:bottom, customValues:f.xt, formatter:v=>fmt(v,1), margin:5, fontFamily:FONT, fontSize:10.5, color:'#262626'},
   name: bottom ? 'Time [Myr]' : '', nameLocation:'middle', nameGap:17,
   nameTextStyle:{fontFamily:FONT, fontSize:13, color:'#111'}});
  yAxis.push({type:'value', gridIndex:k, min:p.y[0], max:p.y[1], position:'left',
   axisLine:{show:false, onZero:false}, splitLine:{show:false},
   axisTick:{show:true, length:3.5, customValues:p.tk, lineStyle:{color:'#333'}},
   axisLabel:{customValues:p.tk, formatter:v=>fmt(v,p.dec), margin:5, fontFamily:FONT, fontSize:10.5, color:'#262626'},
   name:p.nm, nameLocation:'middle', nameRotate:90, nameGap:p.gap,
   nameTextStyle:{fontFamily:FONT, fontSize:12, color:'#111',
    rich:{n:{fontFamily:FONT,fontSize:12,color:'#111'}, i:{fontFamily:FONT,fontSize:12,fontStyle:'italic',color:'#111'},
          s:{fontFamily:FONT,fontSize:8,color:'#111'}, si:{fontFamily:FONT,fontSize:8.5,fontStyle:'italic',color:'#111'}}}});
  let first = true;
  ['L','M','D'].forEach(g=>{
   const pre = p[g], tPre = f['t'+g], pro = p['P'+g.toLowerCase()];
   const lines = pre.map(v=>zip(tPre,v)).concat(pro.map(v=>zip(f.tP,v)));
   lines.forEach(d=>{
    const s = {type:'line', name:NAME[g], xAxisIndex:k, yAxisIndex:k, data:d, symbol:'none', showSymbol:false, silent:true,
      lineStyle:{color:COL[g], width:1.25, opacity:0.9}, itemStyle:{color:COL[g]}, z:2};
    if(first){ s.markLine={silent:true, symbol:'none', label:{show:false}, animation:false,
      lineStyle:{type:[3,2], color:'#333', width:0.9}, data:[{xAxis:0}]}; first=false; }
    series.push(s);
   });
  });
 });
});

// ---------- header text ----------
const mctx = document.createElement('canvas').getContext('2d');
function tw(text, font){ mctx.font = font; return mctx.measureText(text).width; }
const SERIF = '"Liberation Serif", "DejaVu Serif", serif';
const graphic = [];
function fitText(text, x, y, size, target){
 const font = size+'px '+SERIF; const w = tw(text, font);
 graphic.push({type:'text', x:x, y:y, scaleX: target/w, originX:0, silent:true,
   style:{text:text, font:font, fill:'#000', textAlign:'left', textVerticalAlign:'middle', verticalAlign:'middle'}});
}
fitText('16', 7, 17, 18, 21);
(function(){
 const f1 = '18px '+SERIF, f2 = '14px '+SERIF;
 const w1 = tw('K', f1), w2 = tw('AALVA ET AL.', f2), sc = 137/(w1+w2);
 graphic.push({type:'text', x:460, y:17, scaleX:sc, silent:true, style:{text:'K', font:f1, fill:'#000', textVerticalAlign:'middle', verticalAlign:'middle'}});
 graphic.push({type:'text', x:460+w1*sc, y:18.3, scaleX:sc, silent:true, style:{text:'AALVA ET AL.', font:f2, fill:'#000', textVerticalAlign:'middle', verticalAlign:'middle'}});
})();
fitText('APPENDIX', 465, 83, 18, 106);
fitText('A.  PROPERTIES TIME EVOLUTION', 343, 157, 18, 349);
fitText('Time evolution of the gas properties for low-mass and high-mass stellar populations. The property progressions are', 25, 190, 18, 1003);
fitText('similar to those of the intermediate-mass stars. Likewise, within each class there is diversity in the protostellar phase', 7, 215, 18, 1021);
fitText('in terms of both the time-dependent behavior and the length of accretion times.', 7, 240, 18, 700);

function plain(text, x, y, align){
 graphic.push({type:'text', x:x, y:y, silent:true, z:50, style:{text:text, font:'14px "DejaVu Sans"', fill:'#111', textAlign:align, textVerticalAlign:'middle', verticalAlign:'middle', align:align}});
}
plain('protostellar', 498, 288, 'right');
plain('pre-stellar', 75, 363, 'left');
plain('protostellar', 999, 288, 'right');
plain('pre-stellar', 583, 363, 'left');

const legendBase = {orient:'vertical', data:LEGEND_NAMES, icon:'rect', itemWidth:26, itemHeight:1.8, itemGap:4.5,
  padding:[4,8,4,6], backgroundColor:'rgba(255,255,255,0.85)', borderColor:'#cccccc', borderWidth:1, borderRadius:3,
  selectedMode:false, textStyle:{fontFamily:FONT, fontSize:12.5, color:'#111', lineHeight:14, padding:[0,0,0,4]}, z:20};
const legend = [Object.assign({left:72, top:491}, legendBase), Object.assign({left:579, top:492}, legendBase)];

const chart = echarts.init(document.getElementById('c'), null, {renderer:'canvas'});
chart.setOption({backgroundColor:'#fff', animation:false, grid, xAxis, yAxis, series, legend, graphic});
</script></body></html>
